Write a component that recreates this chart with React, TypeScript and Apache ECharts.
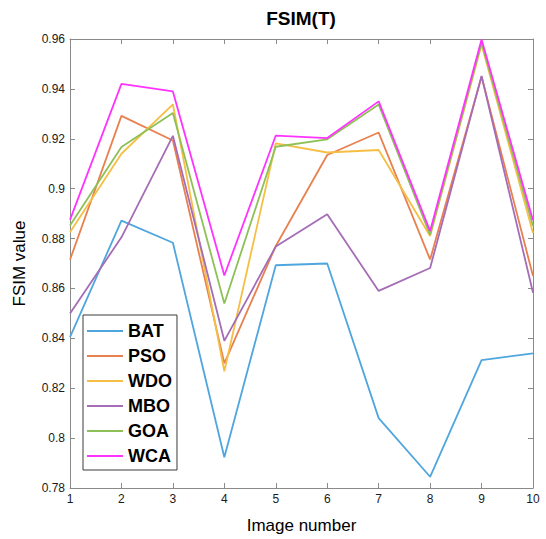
import React, { useEffect, useRef } from "react";
import * as echarts from "echarts";

const imageNumbers = [1, 2, 3, 4, 5, 6, 7, 8, 9, 10];
const seriesNames = ["BAT", "PSO", "WDO", "MBO", "GOA", "WCA"];
const bat = [0.8405, 0.8872, 0.8783, 0.7923, 0.8693, 0.8700, 0.8080, 0.7845, 0.8313, 0.8340];
const pso = [0.8715, 0.9292, 0.9193, 0.8300, 0.8770, 0.9135, 0.9225, 0.8716, 0.9450, 0.8650];
const wdo = [0.8825, 0.9140, 0.9338, 0.8268, 0.9182, 0.9145, 0.9155, 0.8810, 0.9578, 0.8822];
const mbo = [0.8500, 0.8805, 0.9212, 0.8390, 0.8768, 0.8897, 0.8590, 0.8682, 0.9452, 0.8583];
const goa = [0.8852, 0.9167, 0.9303, 0.8540, 0.9168, 0.9198, 0.9337, 0.8815, 0.9585, 0.8850];
const wca = [0.8875, 0.9420, 0.9390, 0.8652, 0.9213, 0.9203, 0.9350, 0.8830, 0.9598, 0.8873];
const yTicks = { min: 0.78, max: 0.96, step: 0.02 };
const titleText = "FSIM(T)";
const xName = "Image number";
const yName = "FSIM value";

const colors = ["#4FA6DE", "#E8804F", "#F5BF45", "#A56DB5", "#8DC158", "#FF33FF"];
const FONT = "'Liberation Sans', Arial, Helvetica, sans-serif";

export default function App() {
  const ref = useRef<HTMLDivElement>(null);
  useEffect(() => {
    document.body.style.margin = "0";
    if (!ref.current) return;
    const chart = echarts.init(ref.current, undefined, { renderer: "svg" });
    const all = [bat, pso, wdo, mbo, goa, wca];
    const axisColor = "#8a8a8a";
    const fmt = (v: number) => String(parseFloat(Number(v).toFixed(2)));
    chart.setOption({
      animation: false,
      backgroundColor: "#ffffff",
      textStyle: { fontFamily: FONT },
      graphic: [
        {
          type: "text",
          x: 301,
          y: 18,
          style: {
            text: titleText,
            textAlign: "center",
            textVerticalAlign: "middle",
            font: `bold 19px ${FONT}`,
            fill: "#000",
          },
        },
      ],
      grid: { left: 70, top: 39, width: 463, height: 450, containLabel: false },
      legend: {
        orient: "vertical",
        left: 83,
        top: 315,
        data: seriesNames,
        icon: "rect",
        itemWidth: 36,
        itemHeight: 2,
        itemGap: 5,
        padding: [6, 5, 4, 4],
        backgroundColor: "#ffffff",
        borderColor: "#3a3a3a",
        borderWidth: 1,
        textStyle: { fontSize: 18, fontWeight: "bold", color: "#000", fontFamily: FONT, lineHeight: 20 },
      },
      xAxis: [
        {
          type: "value",
          min: 1,
          max: 10,
          interval: 1,
          position: "bottom",
          name: xName,
          nameLocation: "middle",
          nameGap: 29,
          nameTextStyle: { fontSize: 17, color: "#000", fontFamily: FONT },
          axisLine: { show: true, onZero: false, lineStyle: { color: axisColor, width: 1 } },
          axisTick: { show: true, inside: true, length: 5, lineStyle: { color: axisColor } },
          axisLabel: { fontSize: 12, color: "#1a1a1a", margin: 5, fontFamily: FONT },
          splitLine: { show: false },
        },
        {
          type: "value",
          min: 1,
          max: 10,
          interval: 1,
          position: "top",
          axisLine: { show: true, onZero: false, lineStyle: { color: axisColor, width: 1 } },
          axisTick: { show: true, inside: true, length: 5, lineStyle: { color: axisColor } },
          axisLabel: { show: false },
          splitLine: { show: false },
        },
      ],
      yAxis: [
        {
          type: "value",
          min: yTicks.min,
          max: yTicks.max,
          interval: yTicks.step,
          position: "left",
          name: yName,
          nameLocation: "middle",
          nameGap: 42,
          nameTextStyle: { fontSize: 17, color: "#000", fontFamily: FONT },
          axisLine: { show: true, onZero: false, lineStyle: { color: axisColor, width: 1 } },
          axisTick: { show: true, inside: true, length: 5, lineStyle: { color: axisColor } },
          axisLabel: { fontSize: 12, color: "#1a1a1a", margin: 5, formatter: fmt, fontFamily: FONT },
          splitLine: { show: false },
        },
        {
          type: "value",
          min: yTicks.min,
          max: yTicks.max,
          interval: yTicks.step,
          position: "right",
          axisLine: { show: true, onZero: false, lineStyle: { color: axisColor, width: 1 } },
          axisTick: { show: true, inside: true, length: 5, lineStyle: { color: axisColor } },
          axisLabel: { show: false },
          splitLine: { show: false },
        },
      ],
      series: seriesNames.map((name, i) => ({
        name,
        type: "line",
        xAxisIndex: 0,
        yAxisIndex: 0,
        symbol: "none",
        color: colors[i],
        lineStyle: { color: colors[i], width: 1.8 },
        data: imageNumbers.map((x, j) => [x, all[i][j]]),
      })),
    });
    return () => chart.dispose();
  }, []);
  return <div ref={ref} style={{ width: 546, height: 539 }} />;
}
